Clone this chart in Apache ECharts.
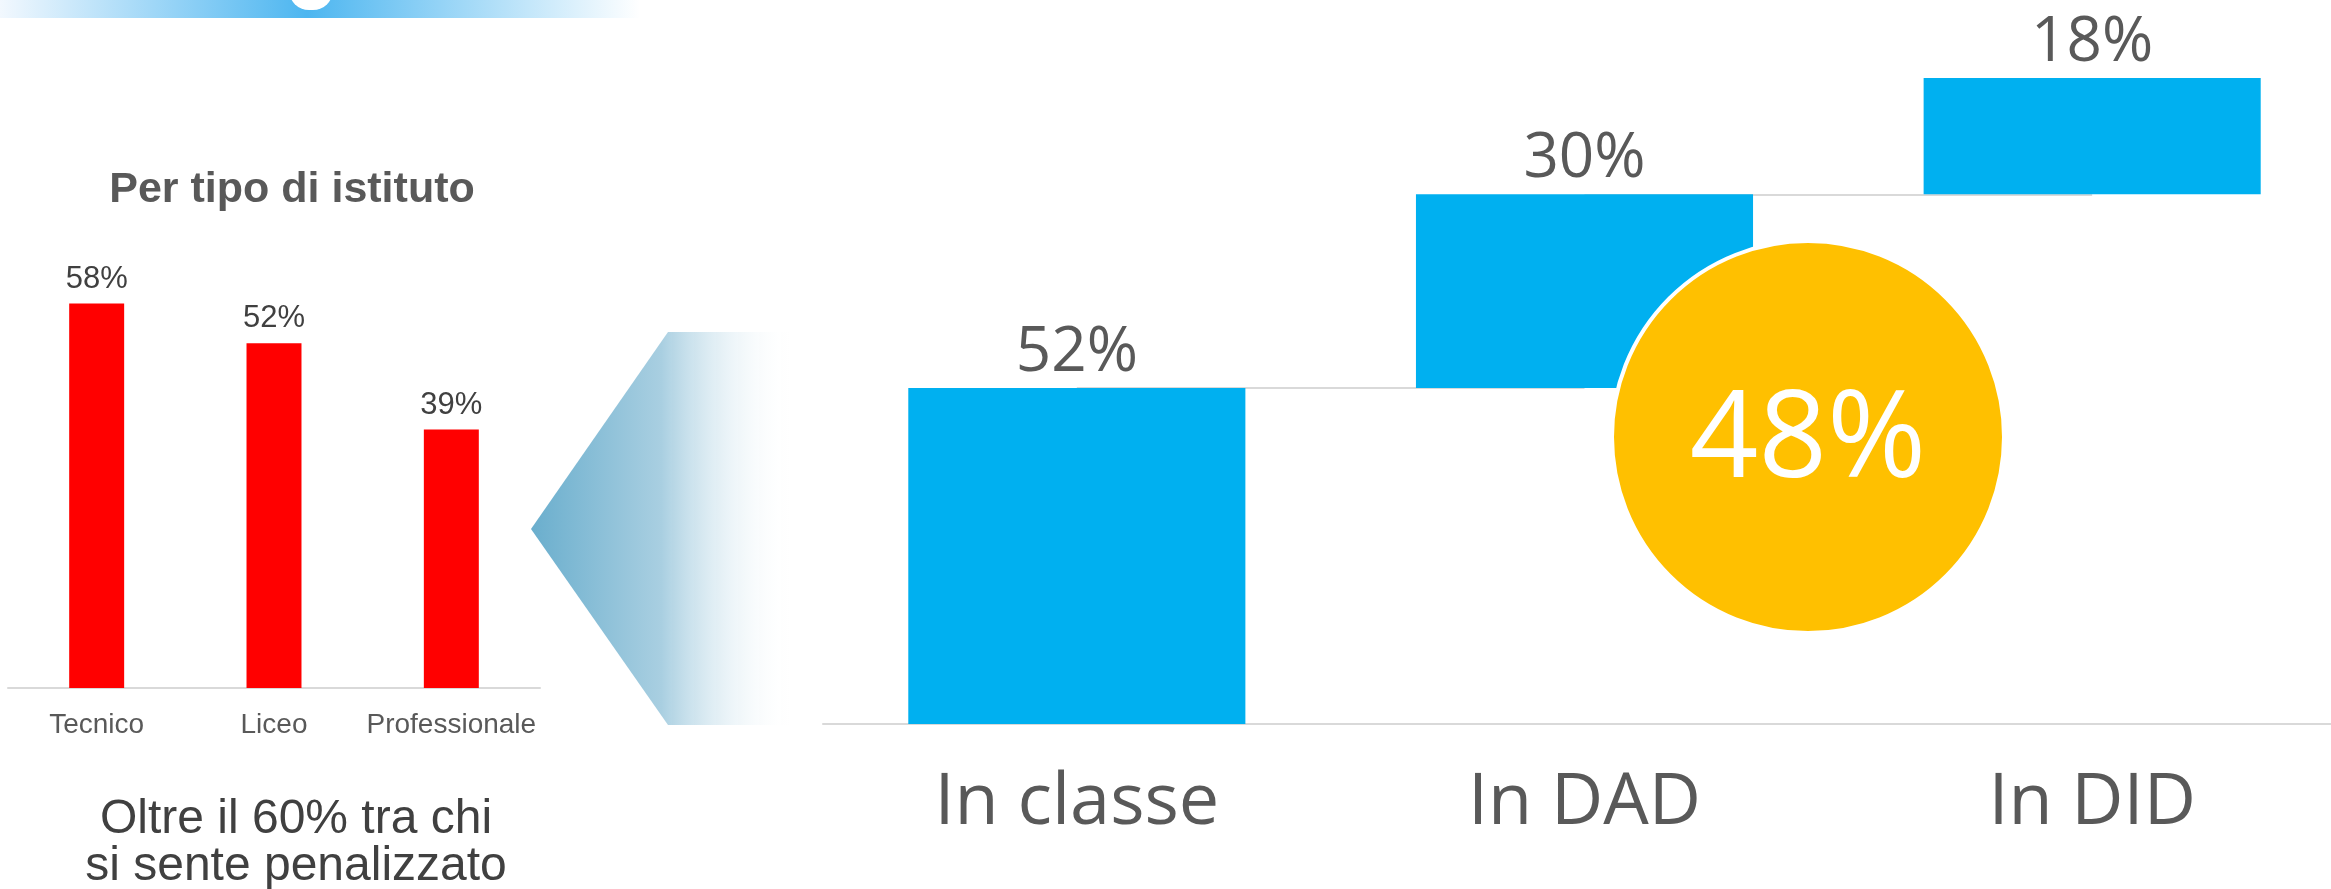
<!DOCTYPE html>
<html>
<head>
<meta charset="utf-8">
<script src="https://cdn.jsdelivr.net/npm/echarts@6/dist/echarts.min.js"></script>
<style>
  html, body { margin: 0; padding: 0; background: #fff; overflow: hidden; }
  /* un po' piu largo della finestra: l'ultima categoria sborda a destra */
  #main { width: 2346px; height: 889px; }
</style>
</head>
<body>
<div id="main"></div>
<script>
// dati: per tipo di istituto
var schoolTypes = ['Tecnico', 'Liceo', 'Professionale'];
var schoolValues = [58, 52, 39];

// dati: dove si sente penalizzato
var modeCats = ['In classe', 'In DAD', 'In DID'];
var modeValues = [52, 30, 18];

// base invisibile della cascata
var modeBase = [];
var acc = 0;
for (var i = 0; i < modeValues.length; i++) {
  modeBase.push(acc);
  acc += modeValues[i];
}
// quota fuori dalla classe (DAD + DID)
var remoteShare = modeValues[1] + modeValues[2];

var grey = '#595959';
var axisGrey = '#D9D9D9';
var arial = 'Liberation Sans, Arial, sans-serif';
var segoe = 'Open Sans, Noto Sans, sans-serif';

var myChart = echarts.init(document.getElementById('main'));
myChart.setOption({
  animation: false,
  grid: [
    { left: 8, top: 224, width: 532, height: 464 },
    { left: 823, top: 78, width: 1523, height: 646 }
  ],
  xAxis: [
    {
      type: 'category',
      gridIndex: 0,
      data: schoolTypes,
      axisLine: { lineStyle: { color: axisGrey, width: 2 } },
      axisTick: { show: false },
      axisLabel: {
        interval: 0,
        hideOverlap: false,
        color: grey,
        fontFamily: arial,
        fontSize: 28,
        margin: 23
      }
    },
    {
      type: 'category',
      gridIndex: 1,
      data: modeCats,
      axisLine: { lineStyle: { color: axisGrey, width: 2 } },
      axisTick: { show: false },
      axisLabel: {
        interval: 0,
        hideOverlap: false,
        color: grey,
        fontFamily: segoe,
        fontSize: 72,
        margin: 43
      }
    }
  ],
  yAxis: [
    { type: 'value', gridIndex: 0, min: 0, max: 70, show: false, splitLine: { show: false } },
    { type: 'value', gridIndex: 1, min: 0, max: 100, show: false, splitLine: { show: false } }
  ],
  series: [
    {
      type: 'bar',
      xAxisIndex: 0,
      yAxisIndex: 0,
      data: schoolValues,
      barWidth: '31%',
      itemStyle: { color: '#FF0000' },
      label: {
        show: true,
        position: 'top',
        distance: 9,
        formatter: '{c}%',
        color: '#404040',
        fontFamily: arial,
        fontSize: 31
      }
    },
    {
      // base trasparente + linee di raccordo
      type: 'bar',
      xAxisIndex: 1,
      yAxisIndex: 1,
      stack: 'wf',
      z: 1,
      data: modeBase,
      barWidth: '66.4%',
      itemStyle: { color: 'transparent' },
      silent: true,
      markLine: {
        z: 1,
        silent: true,
        symbol: ['none', 'none'],
        label: { show: false },
        lineStyle: { color: axisGrey, width: 2, type: 'solid' },
        data: [
          [{ coord: [0, modeBase[1]] }, { coord: [1, modeBase[1]] }],
          [{ coord: [1, modeBase[2]] }, { coord: [2, modeBase[2]] }]
        ]
      }
    },
    {
      type: 'bar',
      xAxisIndex: 1,
      yAxisIndex: 1,
      stack: 'wf',
      z: 3,
      data: modeValues,
      barWidth: '66.4%',
      itemStyle: { color: '#00B0F0' },
      label: {
        show: true,
        position: 'top',
        distance: 4,
        formatter: '{c}%',
        color: grey,
        fontFamily: segoe,
        fontSize: 62
      }
    }
  ],
  graphic: [
    {
      // fascia sfumata in alto
      type: 'rect',
      shape: { x: 0, y: 0, width: 640, height: 18 },
      style: {
        fill: new echarts.graphic.LinearGradient(0, 0, 1, 0, [
          { offset: 0, color: '#F2F8FE' },
          { offset: 0.48, color: '#4DB6F0' },
          { offset: 1, color: '#FFFFFF' }
        ])
      },
      z: 10
    },
    {
      type: 'rect',
      shape: { x: 289, y: -12, width: 44, height: 22, r: [0, 0, 20, 20] },
      style: { fill: '#FFFFFF' },
      z: 11
    },
    {
      type: 'text',
      x: 292,
      y: 190,
      style: {
        text: 'Per tipo di istituto',
        fill: grey,
        font: 'bold 43px ' + arial,
        align: 'center',
        verticalAlign: 'middle'
      },
      z: 10
    },
    {
      type: 'text',
      x: 296,
      y: 843,
      style: {
        text: 'Oltre il 60% tra chi\nsi sente penalizzato',
        fill: '#404040',
        font: '48px ' + arial,
        lineHeight: 47,
        align: 'center',
        verticalAlign: 'middle'
      },
      z: 10
    },
    {
      // freccia sfumata
      type: 'polygon',
      shape: { points: [[531, 529], [668, 332], [792, 332], [792, 725], [668, 725]] },
      style: {
        fill: new echarts.graphic.LinearGradient(0, 0, 1, 0, [
          { offset: 0, color: '#6AAECD' },
          { offset: 0.5, color: '#A9CFE1' },
          { offset: 1, color: 'rgba(255,255,255,0)' }
        ])
      },
      z: 10
    },
    {
      type: 'circle',
      shape: { cx: 1808, cy: 437, r: 196 },
      style: { fill: '#FFC000', stroke: '#FFFFFF', lineWidth: 4 },
      z: 20
    },
    {
      type: 'text',
      x: 1808,
      y: 443,
      style: {
        text: remoteShare + '%',
        fill: '#FFFFFF',
        font: '120px ' + segoe,
        align: 'center',
        verticalAlign: 'middle'
      },
      z: 21
    }
  ]
});
</script>
</body>
</html>
